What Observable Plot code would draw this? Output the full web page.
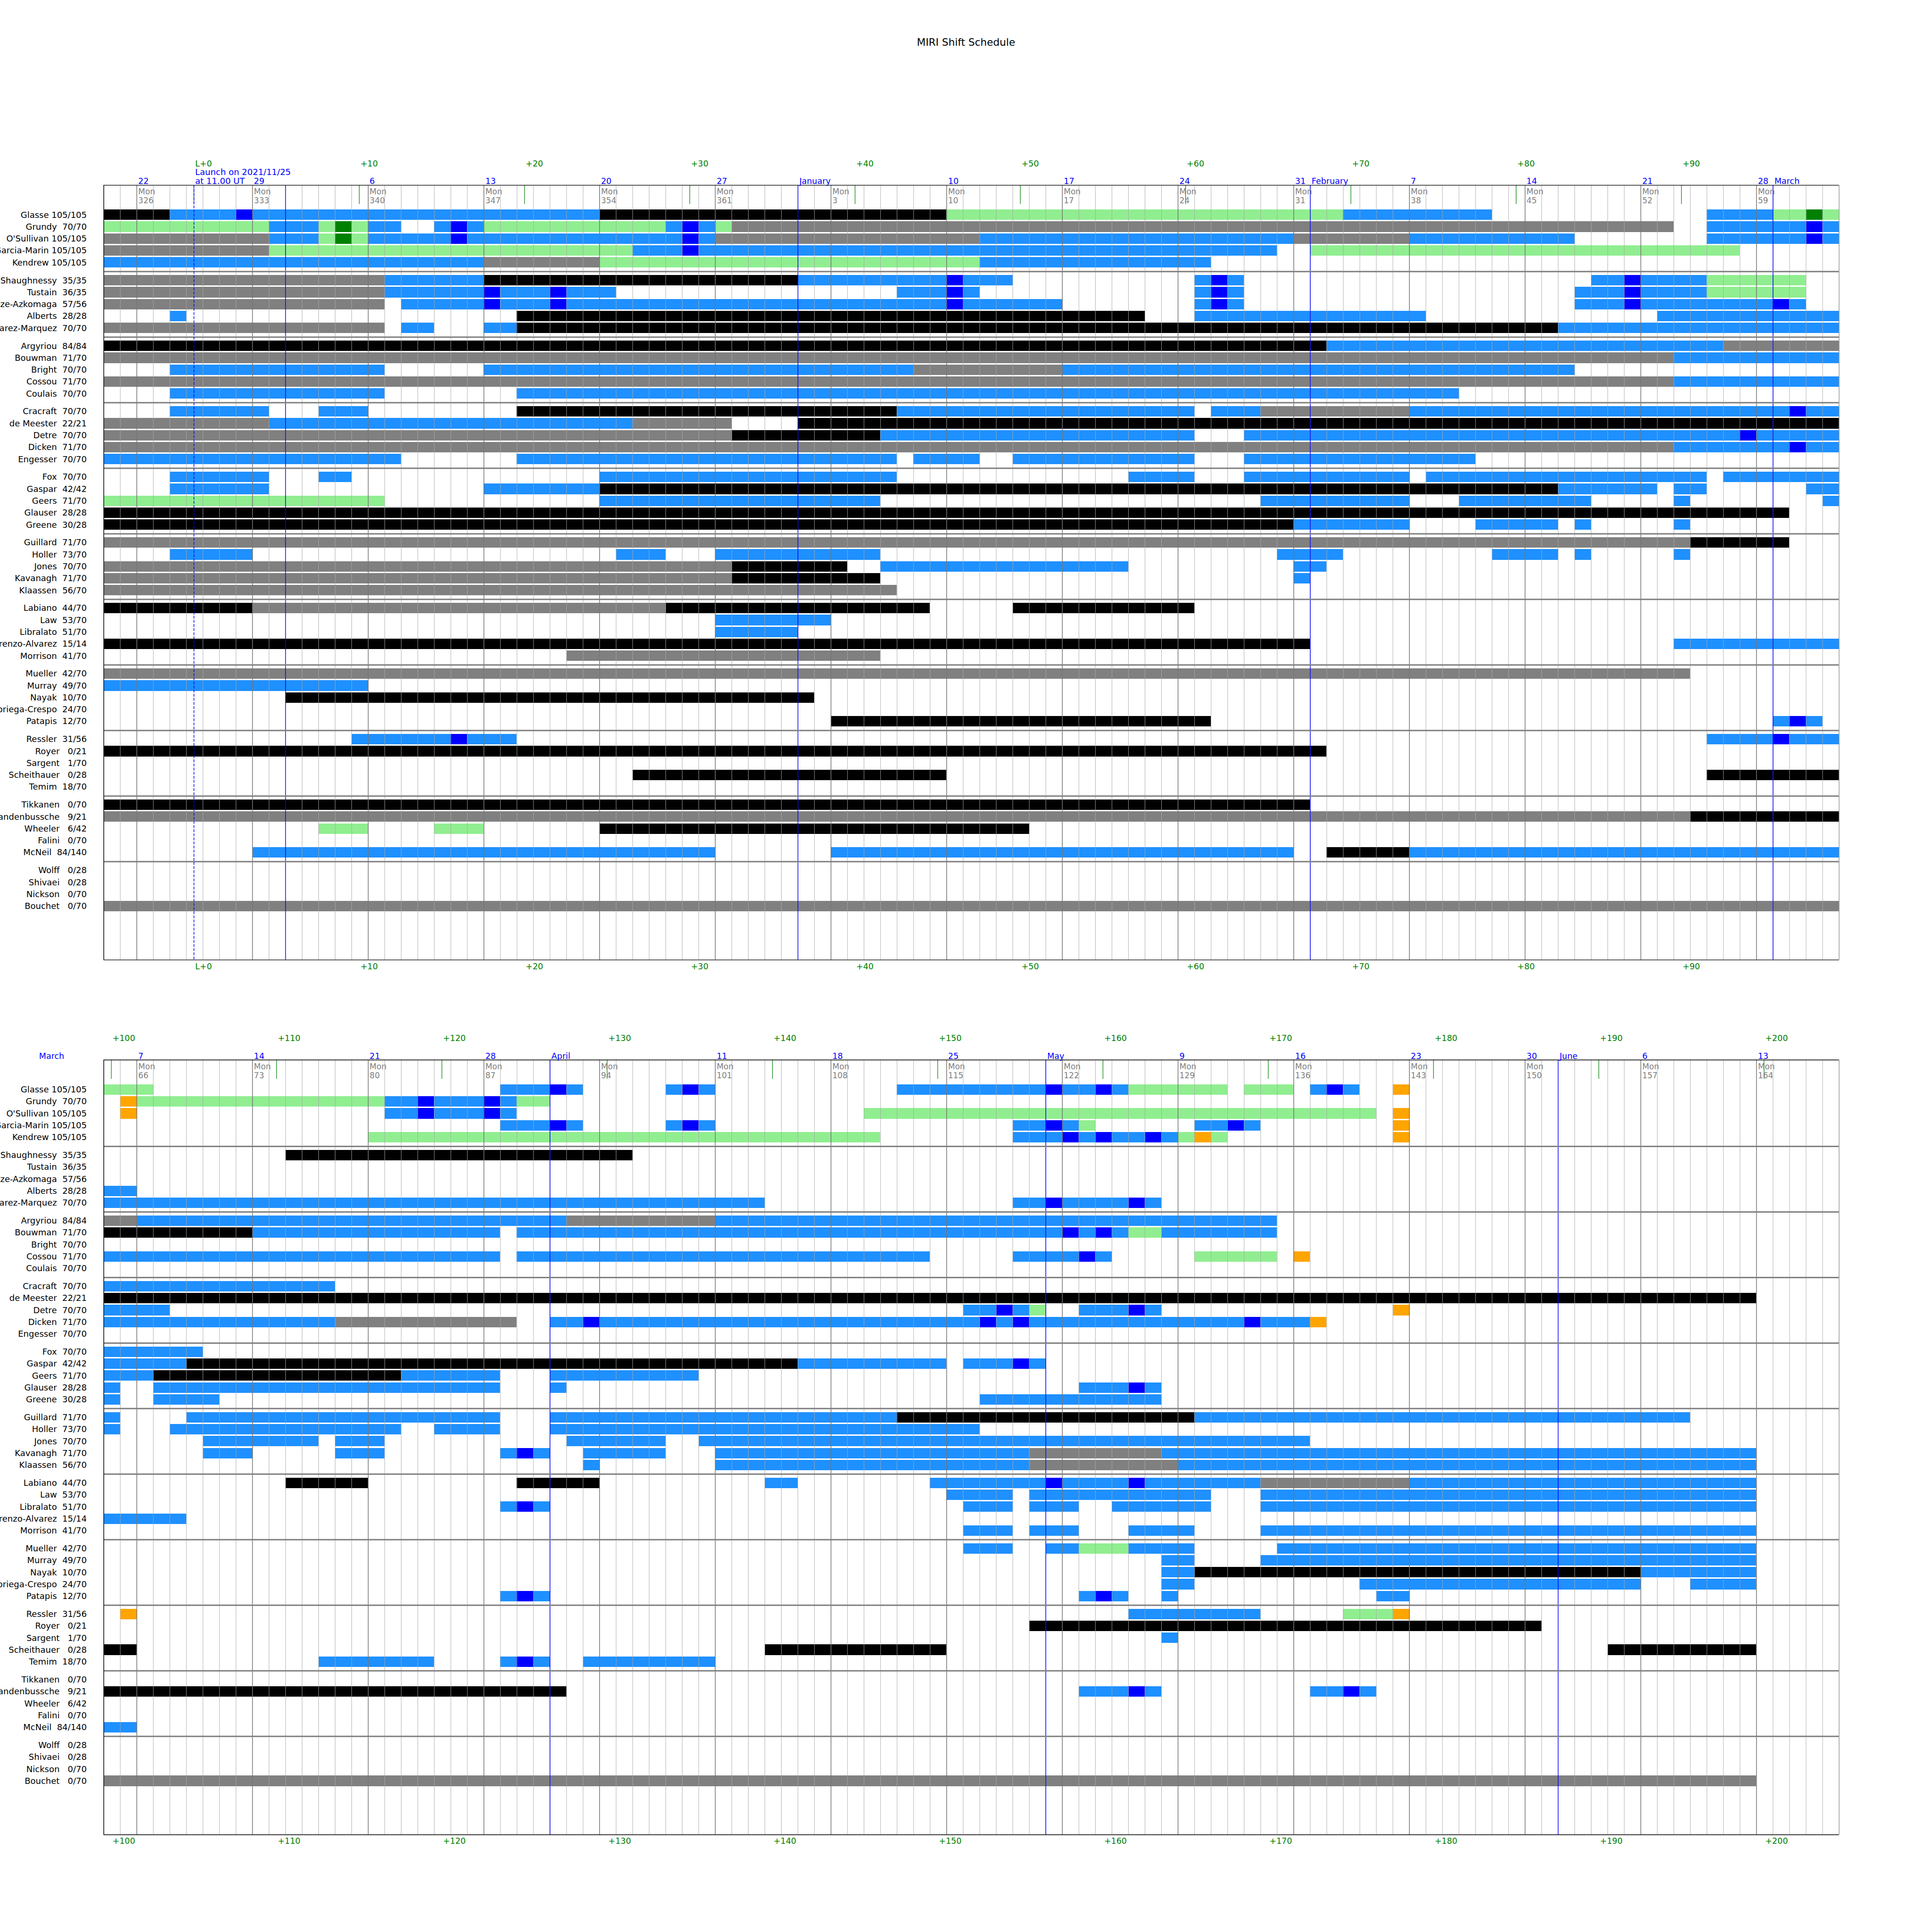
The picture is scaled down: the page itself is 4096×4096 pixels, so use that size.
<!DOCTYPE html>
<html><head><meta charset="utf-8">
<script src="https://cdn.jsdelivr.net/npm/d3@7"></script>
<script src="https://cdn.jsdelivr.net/npm/@observablehq/plot@0.6"></script>
<style>
body{margin:0;background:#fff;}
#wrap{position:relative;width:4096px;height:4096px;overflow:hidden;font-family:"DejaVu Sans";background:#fff;}
#title{position:absolute;left:0;top:79px;width:4096px;text-align:center;font-size:21.6px;line-height:22px;color:#000;}
.panel{position:absolute;left:0;}
svg text{white-space:pre;}
</style></head><body>
<div id="wrap">
<div id="title">MIRI Shift Schedule</div>
<div id="p0" class="panel" style="top:0px"></div>
<div id="p1" class="panel" style="top:2140px"></div>
</div>
<script>
// ---- people, shifts done / shifts target ----
const names = ["Glasse","Grundy","O'Sullivan","Garcia-Marin","Kendrew","O'Shaughnessy","Tustain","Ibaize-Azkomaga","Alberts","Alvarez-Marquez","Argyriou","Bouwman","Bright","Cossou","Coulais","Cracraft","de Meester","Detre","Dicken","Engesser","Fox","Gaspar","Geers","Glauser","Greene","Guillard","Holler","Jones","Kavanagh","Klaassen","Labiano","Law","Libralato","Lorenzo-Alvarez","Morrison","Mueller","Murray","Nayak","Noriega-Crespo","Patapis","Ressler","Royer","Sargent","Scheithauer","Temim","Tikkanen","Vandenbussche","Wheeler","Falini","McNeil","Wolff","Shivaei","Nickson","Bouchet"];
const shiftsDone = [105,70,105,105,105,35,36,57,28,70,84,71,70,71,70,70,22,70,71,70,70,42,71,28,30,71,73,70,71,56,44,53,51,15,41,42,49,10,24,12,31,0,1,0,18,0,9,6,0,84,0,0,0,0];
const shiftsTarget = [105,70,105,105,105,35,35,56,28,70,84,70,70,70,70,70,21,70,70,70,70,42,70,28,28,70,70,70,70,70,70,70,70,14,70,70,70,70,70,70,56,21,70,28,70,70,21,42,70,140,28,28,70,70];

// ---- shift segments: [person, [startDay, endDay, ...]]; day 0 = 2021-11-20 ----
const segDodger = [
 ["Glasse",[4,8,9,30,75,84,97,101,129,132,133,134,139,140,141,142,153,162,163,165,166,167,178,179,180,181]],
 ["Grundy",[10,13,16,18,20,21,22,23,34,35,36,37,97,103,104,105,122,124,125,128,129,130]],
 ["O'Sullivan",[10,13,16,21,22,35,36,37,53,72,79,89,97,103,104,105,122,124,125,128,129,130]],
 ["Garcia-Marin",[32,35,36,71,129,132,133,134,139,140,141,142,160,162,163,164,171,173,174,175]],
 ["Kendrew",[0,23,53,67,160,163,164,165,166,168,169,170]],
 ["O'Shaughnessy",[17,23,42,51,52,55,66,67,68,69,90,92,93,97]],
 ["Tustain",[17,23,24,27,28,31,48,51,52,53,66,67,68,69,89,92,93,97]],
 ["Ibaize-Azkomaga",[18,23,24,27,28,51,52,58,66,67,68,69,89,92,93,101,102,103]],
 ["Alberts",[4,5,66,80,94,105,105,107]],
 ["Alvarez-Marquez",[18,20,23,25,88,105,105,145,160,162,163,167,168,169]],
 ["Argyriou",[74,98,107,133,142,176]],
 ["Bouwman",[95,105,114,129,130,163,164,165,166,167,169,176]],
 ["Bright",[4,17,23,49,58,89]],
 ["Cossou",[95,105,105,129,130,155,160,164,165,166]],
 ["Coulais",[4,17,25,82]],
 ["Cracraft",[4,10,13,16,48,66,67,70,79,102,103,105,105,119]],
 ["de Meester",[10,32]],
 ["Detre",[47,66,69,99,100,105,105,109,157,159,160,161,164,167,168,169]],
 ["Dicken",[95,102,103,105,105,119,132,134,135,158,159,160,161,174,175,178]],
 ["Engesser",[0,18,25,48,49,53,55,66,69,83]],
 ["Fox",[4,10,13,15,30,48,62,66,69,79,80,97,98,105,105,111]],
 ["Gaspar",[4,10,23,30,88,94,95,97,103,105,105,110,147,156,157,160,161,162]],
 ["Geers",[30,47,70,79,82,90,95,96,104,105,105,108,123,129,132,141]],
 ["Glauser",[105,106,108,129,132,133,164,167,168,169]],
 ["Greene",[72,79,83,88,89,90,95,96,105,106,108,112,158,169]],
 ["Guillard",[105,106,110,129,132,153,171,201]],
 ["Holler",[4,9,31,34,37,47,71,75,84,88,89,90,95,96,105,106,109,123,125,129,132,158]],
 ["Jones",[47,62,72,74,111,118,119,122,133,139,141,178]],
 ["Kavanagh",[72,73,111,114,119,122,129,130,131,132,134,139,142,161,169,205]],
 ["Klaassen",[134,135,142,161,170,205]],
 ["Labiano",[145,147,155,162,163,167,168,175,184,205]],
 ["Law",[37,44,156,160,161,172,175,205]],
 ["Libralato",[37,42,129,130,131,132,157,160,161,164,166,172,175,205]],
 ["Lorenzo-Alvarez",[95,105,105,110]],
 ["Morrison",[157,160,161,164,167,171,175,205]],
 ["Mueller",[157,160,162,164,167,171,176,205]],
 ["Murray",[0,16,169,171,175,205]],
 ["Nayak",[169,171,198,205]],
 ["Noriega-Crespo",[169,171,181,198,201,205]],
 ["Patapis",[101,102,103,104,129,130,131,132,164,165,166,167,169,170,182,184]],
 ["Ressler",[15,21,22,25,97,101,102,105,167,175]],
 ["Sargent",[169,170]],
 ["Temim",[118,125,129,130,131,132,134,142]],
 ["Vandenbussche",[164,167,168,169,178,180,181,182]],
 ["McNeil",[9,37,44,72,79,105,105,107]]
];
const segBlue = [
 ["Glasse",[8,9,132,133,140,141,162,163,165,166,179,180]],
 ["Grundy",[21,22,35,36,103,104,124,125,128,129]],
 ["O'Sullivan",[21,22,35,36,103,104,124,125,128,129]],
 ["Garcia-Marin",[35,36,132,133,140,141,162,163,173,174]],
 ["Kendrew",[163,164,165,166,168,169]],
 ["O'Shaughnessy",[51,52,67,68,92,93]],
 ["Tustain",[23,24,27,28,51,52,67,68,92,93]],
 ["Ibaize-Azkomaga",[23,24,27,28,51,52,67,68,92,93,101,102]],
 ["Alvarez-Marquez",[162,163,167,168]],
 ["Bouwman",[163,164,165,166]],
 ["Cossou",[164,165]],
 ["Cracraft",[102,103]],
 ["Detre",[99,100,159,160,167,168]],
 ["Dicken",[102,103,134,135,158,159,160,161,174,175]],
 ["Gaspar",[160,161]],
 ["Glauser",[167,168]],
 ["Kavanagh",[130,131]],
 ["Labiano",[162,163,167,168]],
 ["Libralato",[130,131]],
 ["Patapis",[102,103,130,131,165,166]],
 ["Ressler",[21,22,101,102]],
 ["Temim",[130,131]],
 ["Vandenbussche",[167,168,180,181]]
];
const segBlack = [
 ["Glasse",[0,4,30,51]],
 ["O'Shaughnessy",[23,42,116,137]],
 ["Alberts",[25,63]],
 ["Alvarez-Marquez",[25,88]],
 ["Argyriou",[0,74]],
 ["Bouwman",[105,114]],
 ["Cracraft",[25,48]],
 ["de Meester",[42,105,105,205]],
 ["Detre",[38,47]],
 ["Gaspar",[30,88,110,147]],
 ["Geers",[108,123]],
 ["Glauser",[0,102]],
 ["Greene",[0,72]],
 ["Guillard",[96,102,153,171]],
 ["Jones",[38,45]],
 ["Kavanagh",[38,47]],
 ["Labiano",[0,9,34,50,55,66,116,121,130,135]],
 ["Lorenzo-Alvarez",[0,73]],
 ["Nayak",[11,43,171,198]],
 ["Patapis",[44,67]],
 ["Royer",[0,74,161,192]],
 ["Scheithauer",[32,51,97,105,105,107,145,156,196,205]],
 ["Tikkanen",[0,73]],
 ["Vandenbussche",[96,105,105,133]],
 ["Wheeler",[30,56]],
 ["McNeil",[74,79]]
];
const segGray = [
 ["Grundy",[38,95]],
 ["O'Sullivan",[0,10,37,53,72,79]],
 ["Garcia-Marin",[0,10]],
 ["Kendrew",[23,30]],
 ["O'Shaughnessy",[0,17]],
 ["Tustain",[0,17]],
 ["Ibaize-Azkomaga",[0,17]],
 ["Alvarez-Marquez",[0,17]],
 ["Argyriou",[98,105,105,107,133,142]],
 ["Bouwman",[0,95]],
 ["Bright",[49,58]],
 ["Cossou",[0,95]],
 ["Cracraft",[70,79]],
 ["de Meester",[0,10,32,38]],
 ["Detre",[0,38]],
 ["Dicken",[0,95,119,130]],
 ["Guillard",[0,96]],
 ["Jones",[0,38]],
 ["Kavanagh",[0,38,161,169]],
 ["Klaassen",[0,48,161,170]],
 ["Labiano",[9,34,175,184]],
 ["Morrison",[28,47]],
 ["Mueller",[0,96]],
 ["Vandenbussche",[0,96]],
 ["Bouchet",[0,105,105,205]]
];
const segLightGreen = [
 ["Glasse",[51,75,101,103,104,105,105,108,167,173,174,177]],
 ["Grundy",[0,10,13,14,15,16,23,34,37,38,107,122,130,132]],
 ["O'Sullivan",[13,14,15,16,151,182]],
 ["Garcia-Marin",[10,32,73,99,164,165]],
 ["Kendrew",[30,53,121,152,170,171,172,173]],
 ["O'Shaughnessy",[97,103]],
 ["Tustain",[97,103]],
 ["Geers",[0,17]],
 ["Bouwman",[167,169]],
 ["Cossou",[171,176]],
 ["Detre",[161,162]],
 ["Mueller",[164,167]],
 ["Ressler",[180,183]],
 ["Wheeler",[13,16,20,23]]
];
const segGreen = [["Glasse",[103,104]],["Grundy",[14,15]],["O'Sullivan",[14,15]]];
const segOrange = [
 ["Grundy",[106,107]],["O'Sullivan",[106,107,183,184]],["Glasse",[183,184]],["Garcia-Marin",[183,184]],
 ["Kendrew",[171,172,183,184]],["Cossou",[177,178]],["Detre",[183,184]],["Dicken",[178,179]],["Ressler",[106,107,183,184]]
];

// ---- calendar labels ----
const mondayDoy = [326,333,340,347,354,361,3,10,17,24,31,38,45,52,59,66,73,80,87,94,101,108,115,122,129,136,143,150,157,164];
const mondayDom = ["22","29","6","13","20","27","","10","17","24","31","7","14","21","28","7","14","21","28","","11","18","25","","9","16","23","30","6","13"];
const monthLabels = ["January","February","March","April","May","June"];
const monthLabelDays = [42,73,101,132,162,193];
const monthLineDays = [11,42,73,101,132,162,193];
const launchDay = 5.458;   // 2021/11/25 11:00 UT
const launchOffsets = [0,10,20,30,40,50,60,70,80,90,100,110,120,130,140,150,160,170,180,190,200];

// ---- derived ----
const rowIndex = new Map(names.map((n, i) => [n, i]));
const rowU = n => { const i = rowIndex.get(n); return 5.5 * Math.floor(i / 5) + (i % 5); };
const flat = list => list.flatMap(([name, v]) => d3.range(0, v.length, 2).map(i => ({name, s: v[i], e: v[i + 1]})));
const mondays = mondayDoy.map((doy, i) => ({doy, dom: mondayDom[i], D: doy > 300 ? doy - 324 : doy + 41}));
const mondaySet = new Set(mondays.map(d => d.D));
const rows = names.map((n, i) => ({u: rowU(n), label: `${n} ${String(shiftsDone[i]).padStart(3)}/${shiftsTarget[i]}`}));
const separators = d3.range(10).map(g => 4.75 + 5.5 * g);
const layers = [
  [segGray, "#808080"], [segBlack, "#000000"], [segLightGreen, "#90ee90"], [segGreen, "#008000"],
  [segDodger, "#1e90ff"], [segBlue, "#0000ff"], [segOrange, "#ffa500"]
];

function panel(p) {
  const off = 105 * p;
  const H = p ? 1956 : 2140, mt = p ? 106.7 : 392.1, mb = p ? 206.7 : 105.4;
  const inPanel = d => d.s >= off && d.s < off + 105;
  const X = D => D - off;
  const monIn = mondays.filter(d => d.D >= off && d.D <= off + 105);
  const monthsIn = monthLabels.map((name, i) => ({name, D: monthLabelDays[i]})).filter(d => d.D >= off - 5 && d.D < off + 105);
  const lIn = launchOffsets.filter(n => launchDay + n >= off && launchDay + n <= off + 105);
  const dayLines = d3.range(off, off + 106).filter(D => !mondaySet.has(D));
  const monthLines = monthLineDays.filter(D => D > off && D < off + 105);
  const lab = n => n === 0 ? "L+0" : "+" + n;
  const marks = [];
  for (const [seg, fill] of layers) {
    marks.push(Plot.rect(flat(seg).filter(inPanel), {
      x1: d => X(d.s), x2: d => X(d.e), y1: d => rowU(d.name) - 0.44, y2: d => rowU(d.name) + 0.44,
      fill, shapeRendering: "crispEdges"
    }));
  }
  marks.push(
    Plot.ruleX(dayLines, {x: X, stroke: "#a8a8a8", strokeWidth: 0.9}),
    Plot.ruleX(monIn, {x: d => X(d.D), stroke: "#767676", strokeWidth: 1.5}),
    Plot.ruleX(monthLines, {x: X, stroke: "#0000ff", strokeWidth: 1.4}),
    Plot.ruleX(lIn, {x: n => X(launchDay + n), y1: () => -2.5, y2: () => -0.9, stroke: "#008000", strokeWidth: 1.2}),
    Plot.ruleY(separators, {y: d => d, stroke: "#808080", strokeWidth: 3}),
    Plot.ruleY([-2.5, 62.5], {y: d => d, stroke: "#000", strokeWidth: 1.4}),
    Plot.ruleX([off], {x: X, stroke: "#000", strokeWidth: 1.4}),
    Plot.ruleX([off + 105], {x: X, stroke: "#909090", strokeWidth: 1}),
    Plot.text(monIn, {x: d => X(d.D), y: () => -1.936, text: () => "Mon", textAnchor: "start", dx: 3, fill: "#808080", fontSize: 17}),
    Plot.text(monIn, {x: d => X(d.D), y: () => -1.19, text: d => String(d.doy), textAnchor: "start", dx: 3, fill: "#808080", fontSize: 17}),
    Plot.text(monIn.filter(d => d.dom), {x: d => X(d.D), y: () => -2.824, text: d => d.dom, textAnchor: "start", dx: 3, fill: "#0000ff", fontSize: 17.5}),
    Plot.text(monthsIn, {x: d => X(d.D), y: () => -2.824, text: d => d.name, textAnchor: "start", dx: 3, fill: "#0000ff", fontSize: 17.5}),
    Plot.text(lIn, {x: n => X(launchDay + n), y: () => -4.303, text: lab, textAnchor: "start", dx: 2.5, fill: "#008000", fontSize: 17.5}),
    Plot.text(lIn, {x: n => X(launchDay + n), y: () => 63.05, text: lab, textAnchor: "start", dx: 2.5, fill: "#008000", fontSize: 17.5}),
    Plot.text(rows, {y: "u", text: "label", frameAnchor: "left", textAnchor: "end", dx: -36, fill: "#000", fontSize: 18})
  );
  if (p === 0) {
    marks.push(
      Plot.ruleX([launchDay], {x: X, stroke: "#0000ff", strokeWidth: 1.4, strokeDasharray: "6,2.7"}),
      Plot.text(["Launch on 2021/11/25"], {x: () => X(launchDay), y: () => -3.567, text: d => d, textAnchor: "start", dx: 2.5, fill: "#0000ff", fontSize: 18}),
      Plot.text(["at 11.00 UT"], {x: () => X(launchDay), y: () => -2.824, text: d => d, textAnchor: "start", dx: 2.5, fill: "#0000ff", fontSize: 18})
    );
  }
  return Plot.plot({
    width: 4096, height: H,
    marginLeft: 219.5, marginRight: 197.4, marginTop: mt, marginBottom: mb,
    x: {domain: [0, 105], axis: null},
    y: {domain: [-2.5, 62.5], reverse: true, axis: null},
    style: {background: "transparent", fontFamily: "DejaVu Sans", overflow: "visible"},
    marks
  });
}
document.getElementById("p0").appendChild(panel(0));
document.getElementById("p1").appendChild(panel(1));
</script>
</body></html>
